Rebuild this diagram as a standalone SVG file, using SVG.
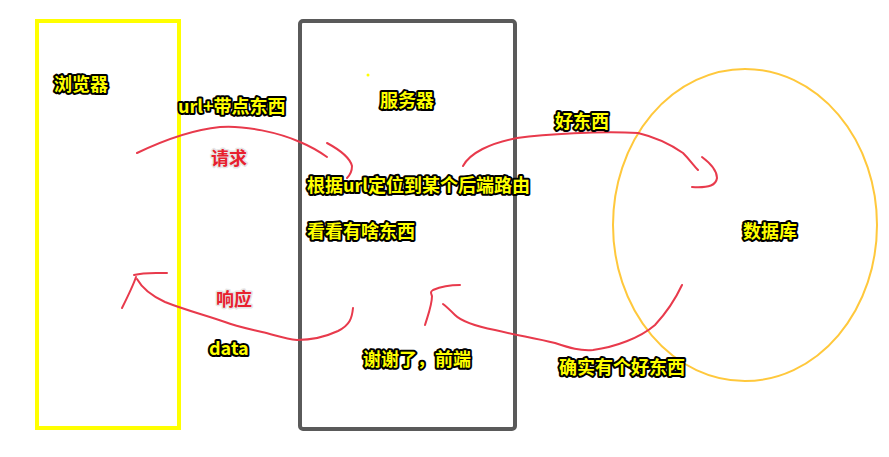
<svg xmlns="http://www.w3.org/2000/svg" width="889" height="457" viewBox="0 0 889 457">
<style>
.lbl{font-family:"Noto Sans CJK SC","Noto Sans",sans-serif;font-weight:bold;font-size:18px;fill:#ffff00;stroke:#000;stroke-width:4px;stroke-linejoin:round;paint-order:stroke}
.red{font-family:"Noto Sans CJK SC","Noto Sans",sans-serif;font-weight:bold;font-size:18px;fill:#e8202e;stroke:#e6e6e6;stroke-width:3px;stroke-linejoin:round;paint-order:stroke}
.con{fill:none;stroke:#e83a4c;stroke-width:2;stroke-linecap:round;stroke-linejoin:round}
</style>
<rect width="889" height="457" fill="#fff"/>
<g id="browser">
<rect x="37" y="21" width="142" height="407" fill="none" stroke="#ffff00" stroke-width="4"/>
<text class="lbl" x="54" y="91">浏览器</text>
</g>
<g id="server">
<rect x="300" y="21" width="215" height="408" rx="3" fill="none" stroke="#5a5a5a" stroke-width="4"/>
<circle cx="368" cy="75" r="1.5" fill="#ffff00"/>
<text class="lbl" x="380" y="107">服务器</text>
<text class="lbl" x="307" y="192">根据url定位到某个后端路由</text>
<text class="lbl" x="307" y="238">看看有啥东西</text>
<text class="lbl" x="363" y="366">谢谢了，前端</text>
</g>
<g id="database">
<ellipse cx="745" cy="225" rx="132" ry="156" fill="none" stroke="#ffc83c" stroke-width="2"/>
<text class="lbl" x="743" y="238">数据库</text>
</g>
<g id="connectors">
<path class="con" d="M137,153 C160,142 190,130 220,127 C245,125 280,133 300,142 C312,147 320,152 327,157"/>
<path class="con" d="M327,143 C340,150 350,158 352,166 C352,172 349,176 347,178"/>
<text class="red" x="211" y="165">请求</text>
<text class="lbl" x="178" y="113">url+带点东西</text>
<path class="con" d="M463,166 C470,153 490,143 517,138 C545,134 600,131 638,133 C655,137 670,144 683,153 C690,160 694,166 698,170"/>
<path class="con" d="M702,157 C710,163 717,170 717,178 C716,185 710,188 692,187"/>
<text class="lbl" x="555" y="128">好东西</text>
<path class="con" d="M353,308 C352,318 350,325 338,331 C325,337 310,340 297,340 C285,339 275,335 262,332 C245,328 235,326 225,322 C205,315 185,310 165,302 C152,296 142,288 137,279"/>
<path class="con" d="M122,308 C128,296 133,286 136,277 M134,275 C145,272 155,273 167,273"/>
<text class="red" x="216" y="306">响应</text>
<text class="lbl" x="209" y="355">data</text>
<path class="con" d="M682,285 C675,300 667,312 655,325 C640,338 615,347 593,350 C580,351 570,348 555,343 C535,338 515,335 495,330 C475,326 462,322 455,315 C450,310 447,307 443,304"/>
<path class="con" d="M425,325 C428,315 432,305 432,296 C431,293 430,292 433,290 C440,287 450,285 460,285"/>
<text class="lbl" x="559" y="374">确实有个好东西</text>
</g>
</svg>
